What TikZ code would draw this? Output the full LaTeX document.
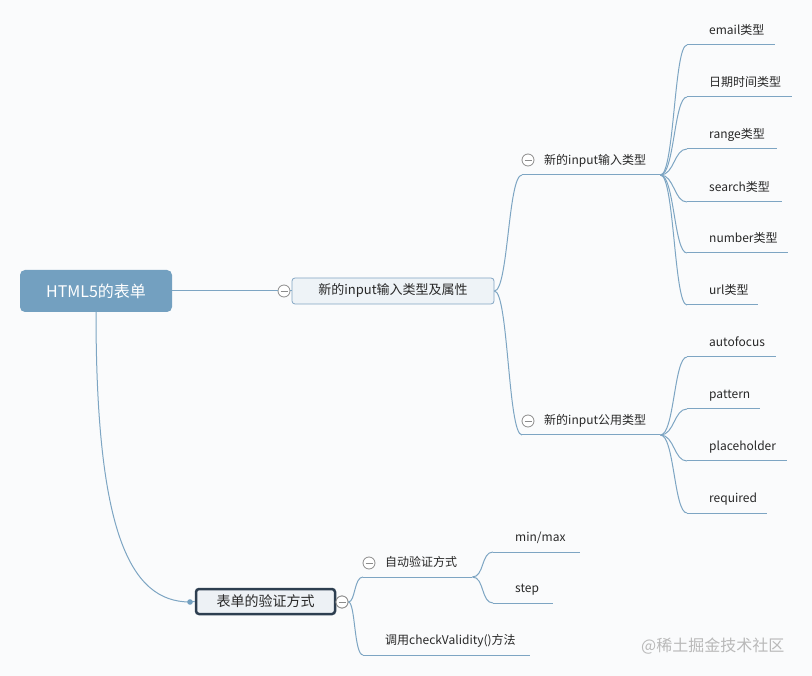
\documentclass[tikz,border=0pt]{standalone}
\usepackage{fontspec}
\setmainfont{Noto Sans CJK SC}
\definecolor{bgc}{RGB}{250,251,252}
\definecolor{linkc}{RGB}{125,165,195}
\definecolor{rootc}{RGB}{115,160,192}
\definecolor{afill}{RGB}{238,243,247}
\definecolor{aborder}{RGB}{130,165,195}
\definecolor{bfill}{RGB}{237,241,245}
\definecolor{bborder}{RGB}{45,62,80}
\definecolor{txtc}{RGB}{40,40,40}
\definecolor{btnc}{RGB}{140,140,140}
\definecolor{wmc}{RGB}{185,185,185}
\newcommand{\myfs}[1]{\fontsize{#1}{#1}\selectfont}
\begin{document}
\begin{tikzpicture}[x=1pt,y=-1pt,
  link/.style={draw=linkc, line width=1pt},
  rootbox/.style={rectangle, rounded corners=5pt, fill=rootc, text=white, font=\myfs{16}, minimum width=152pt, minimum height=42pt, inner sep=0pt},
  boxA/.style={rectangle, rounded corners=3pt, fill=afill, draw=aborder, line width=0.8pt, text=txtc, font=\myfs{13}, minimum width=202pt, minimum height=26pt, inner sep=0pt},
  boxB/.style={rectangle, rounded corners=3pt, fill=bfill, draw=bborder, line width=2.5pt, text=txtc, font=\myfs{14}, minimum width=139pt, minimum height=25pt, inner sep=0pt},
  ulnode/.style={inner xsep=0pt, inner ysep=7pt, text height=9pt, text depth=3pt, anchor=south west, text=txtc, font=\myfs{12}, align=left, text width=#1, execute at begin node={\hspace*{22pt}}},
  cbtn/.style={circle, draw=btnc, fill=white, minimum size=12pt, inner sep=0pt, line width=0.8pt,
    path picture={\draw[btnc, line width=0.8pt] ([xshift=-3.5pt]path picture bounding box.center) -- ([xshift=3.5pt]path picture bounding box.center);}},
  wm/.style={anchor=west, text=wmc, font=\myfs{16}, inner sep=0pt}
]
\useasboundingbox (0,0) rectangle (812,676);
\fill[bgc] (0,0) rectangle (812,676);

% main nodes
\node[rootbox] (root) at (96,291) {HTML5的表单};
\node[boxA] (A) at (393,291) {新的input输入类型及属性};
\node[ulnode=138pt] (n1) at (522,175) {新的input输入类型};
\node[ulnode=138pt] (n2) at (522,435) {新的input公用类型};

% leaves group 1
\node[ulnode=88pt]  (e1) at (687,45)  {email类型};
\node[ulnode=105pt] (e2) at (687,97)  {日期时间类型};
\node[ulnode=90pt]  (e3) at (687,149) {range类型};
\node[ulnode=95pt]  (e4) at (687,202) {search类型};
\node[ulnode=101pt] (e5) at (687,253) {number类型};
\node[ulnode=71pt]  (e6) at (687,305) {url类型};

% leaves group 2
\node[ulnode=89pt]  (f1) at (687,357) {autofocus};
\node[ulnode=73pt]  (f2) at (687,409) {pattern};
\node[ulnode=100pt] (f3) at (687,461) {placeholder};
\node[ulnode=80pt]  (f4) at (687,513) {required};

% bottom branch
\coordinate (dot) at (190,602);
\node[boxB] (B) at (265.5,601.5) {表单的验证方式};
\node[ulnode=109pt] (n3) at (363,577) {自动验证方式};
\node[ulnode=167pt] (n4) at (363,655) {调用checkValidity()方法};
\node[ulnode=87pt]  (m1) at (493,552) {min/max};
\node[ulnode=60pt]  (m2) at (493,603) {step};

% underlines
\foreach \n in {n1,n2,n3,n4,e1,e2,e3,e4,e5,e6,f1,f2,f3,f4,m1,m2}
  \draw[link] (\n.south west) -- (\n.south east);

% collapse buttons
\node[cbtn] (cA) at (284,291) {};
\node[cbtn] (c1) at (528,160) {};
\node[cbtn] (c2) at (528,421) {};
\node[cbtn] (cB) at (342,602) {};
\node[cbtn] (c3) at (369,563) {};

% connectors
\draw[link] (root.east) -- (cA.west);
\draw[link] (cA.east) -- (A.west);
\draw[link] (A.east) .. controls +(14,0) and +(-14,0) .. (n1.south west);
\draw[link] (A.east) .. controls +(14,0) and +(-14,0) .. (n2.south west);
\foreach \l in {e1,e2,e3,e4,e5,e6}
  \draw[link] (n1.south east) .. controls +(14,0) and +(-13,0) .. (\l.south west);
\foreach \l in {f1,f2,f3,f4}
  \draw[link] (n2.south east) .. controls +(14,0) and +(-13,0) .. (\l.south west);
\draw[link] (root.south) .. controls +(0,220) and +(-60,0) .. (dot);
\draw[link] (dot) -- (B.west);
\fill[rootc] (dot) circle (2.8);
\draw[link] (cB.east) .. controls +(7,0) and +(-9,0) .. (n3.south west);
\draw[link] (cB.east) .. controls +(7,0) and +(-9,0) .. (n4.south west);
\draw[link] (n3.south east) .. controls +(12,0) and +(-12,0) .. (m1.south west);
\draw[link] (n3.south east) .. controls +(12,0) and +(-12,0) .. (m2.south west);
\node[cbtn] at (cB) {};

% watermark
\node[wm] (wmark) at (641,646) {@稀土掘金技术社区};
\end{tikzpicture}
\end{document}
